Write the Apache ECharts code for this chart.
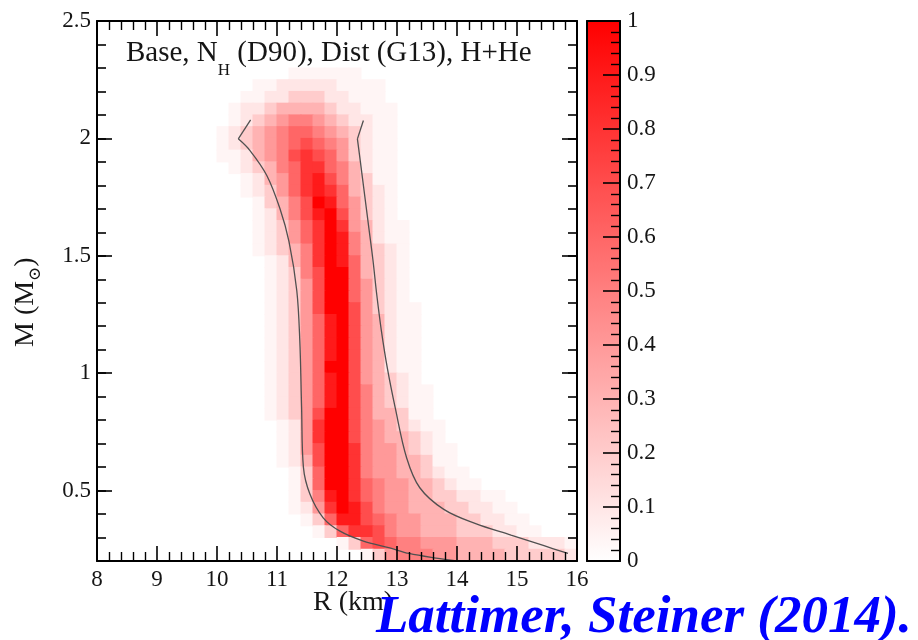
<!DOCTYPE html>
<html>
<head>
<meta charset="utf-8">
<script src="https://cdn.jsdelivr.net/npm/echarts@6/dist/echarts.min.js"></script>
<style>html,body{margin:0;padding:0;background:#fff}#c{width:918px;height:640px}</style>
</head>
<body>
<div id="c"></div>
<script>
// ---------------- data ----------------
// Posterior density grid: one string per mass bin (top bin first),
// one character per radius bin starting at R = 10.0 km.
const rBinStart = 10.0;   // km
const rBinWidth = 0.2;    // km
const mBinTop = 2.45;     // lower edge of first (top) mass bin, M_sun
const mBinHeight = 0.05;  // M_sun
const densityCode = {'0':0,'.':0.04,'1':0.1,'2':0.2,'3':0.3,'4':0.4,'5':0.5,'6':0.6,'7':0.7,'8':0.8,'9':0.9,'X':1};
const densityRows = [
  "",                                  // 2.45
  "",                                  // 2.40
  "",                                  // 2.35
  "",                                  // 2.30
  "000000......",                      // 2.25
  "000..11111....",                    // 2.20
  "00..1122211...",                    // 2.15
  "0.1123333211...",                   // 2.10
  "0.12345543211..",                   // 2.05
  ".123456654321..",                   // 2.00
  ".123456765421..",                   // 1.95
  "..13457876421..",                   // 1.90
  "0.12356886531..",                   // 1.85
  "00.1346897532..",                   // 1.80
  "00.12468986321.",                   // 1.75
  "000.2357X96421.",                   // 1.70
  "000.13579X7421.",                   // 1.65
  "000.12468X8431..",                  // 1.60
  "000.12468X9531..",                  // 1.55
  "000.12358X95321.",                  // 1.50
  "0000.1358X96321.",                  // 1.45
  "0000.1257XX6321.",                  // 1.40
  "0000.1247XX6421.",                  // 1.35
  "0000.1247XX6421.",                  // 1.30
  "0000.1247XX7421..",                 // 1.25
  "0000.12469X7431..",                 // 1.20
  "0000.12469X7431..",                 // 1.15
  "0000.12469X7431..",                 // 1.10
  "0000.12469X7431..",                 // 1.05
  "0000.1246XX7431..",                 // 1.00
  "0000.12469X74321.",                 // 0.95
  "0000.12469X75321..",                // 0.90
  "0000.12469X75321..",                // 0.85
  "0000.1247XX75332..",                // 0.80
  "00000.148XX754321..",               // 0.75
  "00000.148XX7543321.",               // 0.70
  "00000.147XX8544321..",              // 0.65
  "00000.137XX8544332..",              // 0.60
  "000000.26XX85443321..",             // 0.55
  "000000.26XX865443321..",            // 0.50
  "000000.259X86544332211..",          // 0.45
  "000000.148X975443332211..",         // 0.40
  "0000000.2699765443332211..",        // 0.35
  "00000000.2688754433322211..",       // 0.30
  "0000000000.267655444333222111.",    // 0.25
  "000000000000.24555443333222221"     // 0.20
];

// 95% contour lines (R in km, M in M_sun)
const leftTipR  = [10.56, 10.355];
const leftTipM  = [2.079, 1.998];
const leftCurveR = [10.355, 10.55, 10.83, 11.05, 11.20, 11.33, 11.38, 11.41, 11.44, 11.55, 11.77, 12.05, 12.44, 12.88, 13.2, 13.65, 14.0];
const leftCurveM = [1.998, 1.948, 1.842, 1.70, 1.56, 1.351, 1.138, 0.853, 0.60, 0.484, 0.384, 0.327, 0.285, 0.256, 0.232, 0.212, 0.200];
const rightTipR = [12.44, 12.34];
const rightTipM = [2.076, 1.998];
const rightCurveR = [12.34, 12.39, 12.46, 12.53, 12.60, 12.66, 12.74, 12.84, 12.97, 13.16, 13.38, 13.78, 14.30, 14.90, 15.45, 15.85];
const rightCurveM = [1.998, 1.90, 1.76, 1.62, 1.48, 1.34, 1.18, 1.02, 0.853, 0.64, 0.512, 0.42, 0.36, 0.31, 0.265, 0.232];

const yMajorTicks = [0.5, 1, 1.5, 2, 2.5];
const titleParts = ["Base, N", "H", " (D90), Dist (G13), H+He"];
const xName = "R (km)";
const yNameParts = ["M (M", "\u2299", ")"];
const credit = "Lattimer, Steiner (2014).";

// ---------------- build ----------------
const cells = [];
densityRows.forEach((row, i) => {
  const m0 = +(mBinTop - i * mBinHeight).toFixed(3);
  for (let k = 0; k < row.length; k++) {
    const v = densityCode[row[k]];
    if (v > 0) cells.push([+(rBinStart + k * rBinWidth).toFixed(3), m0, v]);
  }
});
const pairs = (xs, ys) => xs.map((x, i) => [x, ys[i]]);

const FONT = '"Liberation Serif", "Times New Roman", "DejaVu Serif", serif';
const TXT = '#151515';
const ctx = document.createElement('canvas').getContext('2d');
function textW(t, size, extra) { ctx.font = (extra || '') + ' ' + size + 'px ' + FONT; return ctx.measureText(t).width; }

function axisBase(o) {
  return {
    type: 'value', z: 6, gridIndex: o.grid, position: o.pos, min: o.min, max: o.max, interval: o.interval,
    axisLine: {show: o.line !== false, onZero: false, lineStyle: {color: '#000', width: 2}},
    axisTick: Object.assign({show: !!o.tick, inside: true, length: o.tick || 0, lineStyle: {color: '#000', width: 1.6}}, o.tickExtra || {}),
    minorTick: {show: !!o.minor, splitNumber: 5, length: o.minor || 0, lineStyle: {color: '#000', width: 1.4}},
    splitLine: {show: false}, minorSplitLine: {show: false},
    axisLabel: o.label ? Object.assign({show: true, fontFamily: FONT, fontSize: 23, color: TXT}, o.label) : {show: false}
  };
}

const chart = echarts.init(document.getElementById('c'));
const PL = 97, PT = 21, PW = 480, PH = 540;

const tW1 = textW(titleParts[0], 29);
const tW2 = textW(titleParts[1], 17);
const yW1 = textW(yNameParts[0], 28);
const yW2 = textW(yNameParts[1], 17);

chart.setOption({
  animation: false,
  backgroundColor: '#fff',
  grid: [
    {left: PL, top: PT, width: PW, height: PH},
    {left: 587, top: PT, width: 33, height: PH}
  ],
  xAxis: [
    axisBase({grid: 0, pos: 'bottom', min: 8, max: 16, interval: 1, tick: 15, minor: 9, label: {margin: 7}}),
    axisBase({grid: 0, pos: 'top', min: 8, max: 16, interval: 1, tick: 15, minor: 9}),
    axisBase({grid: 1, pos: 'bottom', min: 0, max: 1}),
    axisBase({grid: 1, pos: 'top', min: 0, max: 1})
  ],
  yAxis: [
    axisBase({grid: 0, pos: 'left', min: 0.2, max: 2.5, interval: 0.1, tick: 9}),
    axisBase({grid: 0, pos: 'left', min: 0.2, max: 2.5, interval: 0.1, tick: 15, line: false,
      tickExtra: {customValues: yMajorTicks},
      label: {margin: 6, customValues: yMajorTicks, formatter: v => String(Math.round(v * 10) / 10)}}),
    axisBase({grid: 0, pos: 'right', min: 0.2, max: 2.5, interval: 0.1, tick: 9}),
    axisBase({grid: 0, pos: 'right', min: 0.2, max: 2.5, interval: 0.1, tick: 15, line: false,
      tickExtra: {customValues: yMajorTicks}}),
    axisBase({grid: 1, pos: 'right', min: 0, max: 1, interval: 0.1, tick: 17, minor: 9,
      label: {margin: 7, formatter: v => String(Math.round(v * 10) / 10)}}),
    axisBase({grid: 1, pos: 'left', min: 0, max: 1})
  ],
  visualMap: {
    type: 'continuous', seriesIndex: 0, dimension: 2, min: 0, max: 1,
    inRange: {color: ['#ffffff', '#ff0000']},
    left: 587, top: PT, itemWidth: 33, itemHeight: PH, padding: 0,
    calculable: false, showLabel: false, text: null, z: 1
  },
  series: [
    {
      type: 'custom', xAxisIndex: 0, yAxisIndex: 0, clip: true, z: 1,
      encode: {x: 0, y: 1},
      data: cells,
      renderItem: function (params, api) {
        const p0 = api.coord([api.value(0), api.value(1)]);
        const p1 = api.coord([api.value(0) + rBinWidth, api.value(1) + mBinHeight]);
        return {
          type: 'rect',
          shape: {x: p0[0] - 0.5, y: p1[1] - 0.5, width: p1[0] - p0[0] + 1, height: p0[1] - p1[1] + 1},
          style: {fill: api.visual('color')}
        };
      }
    },
    {type: 'line', xAxisIndex: 0, yAxisIndex: 0, data: pairs(leftTipR, leftTipM), symbol: 'none', z: 3,
      lineStyle: {color: '#505050', width: 1.3}},
    {type: 'line', xAxisIndex: 0, yAxisIndex: 0, data: pairs(leftCurveR, leftCurveM), symbol: 'none', smooth: 0.35, z: 3,
      lineStyle: {color: '#505050', width: 1.3}},
    {type: 'line', xAxisIndex: 0, yAxisIndex: 0, data: pairs(rightTipR, rightTipM), symbol: 'none', z: 3,
      lineStyle: {color: '#505050', width: 1.3}},
    {type: 'line', xAxisIndex: 0, yAxisIndex: 0, data: pairs(rightCurveR, rightCurveM), symbol: 'none', smooth: 0.35, z: 3,
      lineStyle: {color: '#505050', width: 1.3}}
  ],
  graphic: [
    {type: 'text', x: 126, y: 53.5, z: 20, style: {text: titleParts[0], font: '29px ' + FONT, fill: TXT, verticalAlign: 'middle'}},
    {type: 'text', x: 126 + tW1, y: 70.5, z: 20, style: {text: titleParts[1], font: '17px ' + FONT, fill: TXT, verticalAlign: 'middle'}},
    {type: 'text', x: 126 + tW1 + tW2, y: 53.5, z: 20, style: {text: titleParts[2], font: '29px ' + FONT, fill: TXT, verticalAlign: 'middle'}},
    {type: 'text', x: 313, y: 603, z: 20, style: {text: xName, font: '28px ' + FONT, fill: TXT, verticalAlign: 'middle'}},
    {type: 'group', x: 26, y: 347, rotation: Math.PI / 2, z: 20, children: [
      {type: 'text', x: 0, y: 0, style: {text: yNameParts[0], font: '28px ' + FONT, fill: TXT, verticalAlign: 'middle'}},
      {type: 'text', x: yW1, y: 10, style: {text: yNameParts[1], font: '17px ' + FONT, fill: TXT, verticalAlign: 'middle'}},
      {type: 'text', x: yW1 + yW2, y: 0, style: {text: yNameParts[2], font: '28px ' + FONT, fill: TXT, verticalAlign: 'middle'}}
    ]},
    {type: 'text', x: 376, y: 618, z: 30, style: {text: credit, font: 'italic bold 53px ' + FONT, fill: '#0000ff', verticalAlign: 'middle'}}
  ]
});
</script>
</body>
</html>
